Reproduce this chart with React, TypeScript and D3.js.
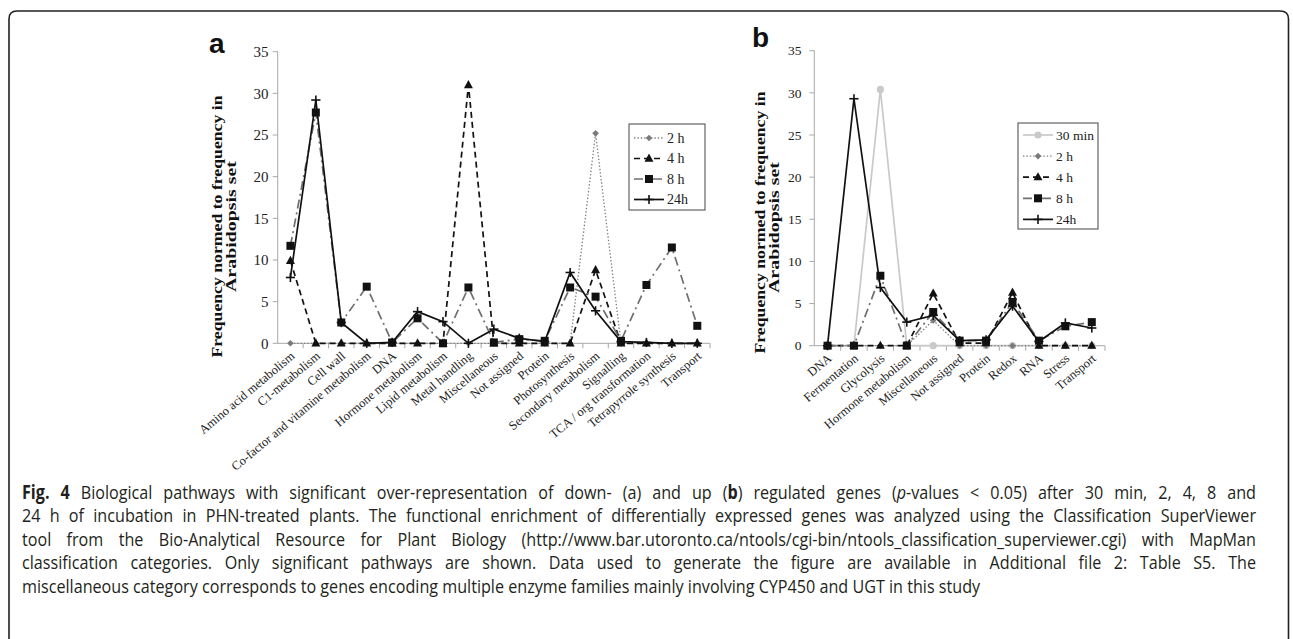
import React, { useEffect, useRef, useState } from "react";
import * as d3 from "d3";

// ---------- data ----------
const catsA = [
  "Amino acid metabolism",
  "C1-metabolism",
  "Cell wall",
  "Co-factor and vitamine metabolism",
  "DNA",
  "Hormone metabolism",
  "Lipid metabolism",
  "Metal handling",
  "Miscellaneous",
  "Not assigned",
  "Protein",
  "Photosynthesis",
  "Secondary metabolism",
  "Signalling",
  "TCA / org transformation",
  "Tetrapyrrole synthesis",
  "Transport",
];
const a2h = [0, 0, 0, 0, 0, 0, 0, 0, 0, 0, 0, 0, 25.2, 0, 0, 0, 0];
const a4h = [9.9, 0, 0, 0, 0, 0, 0, 31.0, 0, 0, 0, 0, 8.8, 0, 0, 0, 0];
const a8h = [11.7, 27.7, 2.5, 6.8, 0.1, 3.0, 0.0, 6.7, 0.1, 0.5, 0.3, 6.7, 5.6, 0.3, 7.0, 11.5, 2.1];
const a24h = [7.9, 29.2, 2.5, 0.0, 0.1, 3.8, 2.6, 0.0, 1.7, 0.6, 0.2, 8.5, 3.9, 0.2, 0.1, 0.0, 0.0];

const catsB = [
  "DNA",
  "Fermentation",
  "Glycolysis",
  "Hormone metabolism",
  "Miscellaneous",
  "Not assigned",
  "Protein",
  "Redox",
  "RNA",
  "Stress",
  "Transport",
];
const b30min = [0, 0, 30.4, 0, 0, 0, 0, 0, 0, 0, 0];
const b2h = [0, 0, 0, 0, 3.0, 0, 0, 0, 0, 0, 0];
const b4h = [0, 0, 0, 0, 6.2, 0.3, 0.3, 6.3, 0, 0, 0];
const b8h = [0, 0, 8.3, 0, 4.0, 0.6, 0.6, 5.2, 0.6, 2.3, 2.8];
const b24h = [0, 29.3, 6.9, 2.8, 3.6, 0.6, 0.7, 4.7, 0.5, 2.7, 2.1];

const yTicks = [0, 5, 10, 15, 20, 25, 30, 35];
const yLabel1 = "Frequency normed to frequency in";
const yLabel2 = "Arabidopsis set";

const seriesA = [
  { name: "2 h", values: a2h },
  { name: "4 h", values: a4h },
  { name: "8 h", values: a8h },
  { name: "24h", values: a24h },
];
const seriesB = [
  { name: "30 min", values: b30min },
  { name: "2 h", values: b2h },
  { name: "4 h", values: b4h },
  { name: "8 h", values: b8h },
  { name: "24h", values: b24h },
];

type Piece = { t: string; w?: string; s?: string };
const captionLines: Piece[][] = [
  [
    { t: "Fig. 4", w: "bold" },
    { t: " Biological pathways with significant over-representation of down- (a) and up (" },
    { t: "b", w: "bold" },
    { t: ") regulated genes (" },
    { t: "p", s: "italic" },
    { t: "-values < 0.05) after 30 min, 2, 4, 8 and" },
  ],
  [{ t: "24 h of incubation in PHN-treated plants. The functional enrichment of differentially expressed genes was analyzed using the Classification SuperViewer" }],
  [{ t: "tool from the Bio-Analytical Resource for Plant Biology (http://www.bar.utoronto.ca/ntools/cgi-bin/ntools_classification_superviewer.cgi) with MapMan" }],
  [{ t: "classification categories. Only significant pathways are shown. Data used to generate the figure are available in Additional file 2: Table S5. The" }],
  [{ t: "miscellaneous category corresponds to genes encoding multiple enzyme families mainly involving CYP450 and UGT in this study" }],
];

// ---------- styles ----------
type Style = { stroke: string; dash?: string; width: number; marker: string; fill: string; size: number };
const STY: Record<string, Style> = {
  "30 min": { stroke: "#c9c9c9", width: 1.7, marker: "circle", fill: "#c9c9c9", size: 3.6 },
  "2 h": { stroke: "#7f7f7f", dash: "1.4,2", width: 1.3, marker: "diamond", fill: "#7a7a7a", size: 3.3 },
  "4 h": { stroke: "#111", dash: "6,4", width: 1.7, marker: "triangle", fill: "#111", size: 4.5 },
  "8 h": { stroke: "#6f6f6f", dash: "9,4,2,4", width: 1.7, marker: "square", fill: "#111", size: 4 },
  "24h": { stroke: "#111", width: 1.7, marker: "plus", fill: "#111", size: 4.6 },
};

const SERIF = "'Liberation Serif', 'Times New Roman', serif";

function Marker({ kind, x, y, s }: { kind: string; x: number; y: number; s: Style }) {
  const r = s.size;
  if (kind === "circle") return <circle cx={x} cy={y} r={r} fill={s.fill} />;
  if (kind === "diamond")
    return <polygon points={`${x},${y - r} ${x + r},${y} ${x},${y + r} ${x - r},${y}`} fill={s.fill} />;
  if (kind === "triangle")
    return <polygon points={`${x},${y - r - 0.5} ${x + r},${y + r * 0.7} ${x - r},${y + r * 0.7}`} fill={s.fill} />;
  if (kind === "square") return <rect x={x - r} y={y - r} width={2 * r} height={2 * r} fill={s.fill} />;
  return (
    <g stroke={s.fill} strokeWidth={1.6}>
      <line x1={x - r} x2={x + r} y1={y} y2={y} />
      <line x1={x} x2={x} y1={y - r} y2={y + r} />
    </g>
  );
}

type PanelCfg = {
  cats: string[];
  series: { name: string; values: number[] }[];
  left: number;
  right: number;
  top: number;
  bottom: number;
  tickFont: number;
  tickRight: number;
  xFont: number;
  xAngle: number;
  letter: string;
  letterX: number;
  letterY: number;
  lab1X: number;
  lab2X: number;
  lab1Y: number;
  lab2Y: number;
  legend: { x: number; y: number; w: number; h: number; row0: number; rowStep: number; font: number };
};

function Panel({ cfg }: { cfg: PanelCfg }) {
  const x = d3.scaleBand<string>().domain(cfg.cats).range([cfg.left, cfg.right]).paddingInner(0).paddingOuter(0);
  const y = d3.scaleLinear().domain([0, 35]).range([cfg.bottom, cfg.top]);
  const bw = x.bandwidth();
  const cx = (c: string) => (x(c) as number) + bw / 2;
  const line = d3
    .line<number>()
    .x((_, i) => cx(cfg.cats[i]))
    .y((d) => y(d));
  const axisCol = "#a8a8a8";
  const lg = cfg.legend;
  return (
    <g>
      <line x1={cfg.left} x2={cfg.left} y1={y(0)} y2={y(35)} stroke={axisCol} strokeWidth={1} />
      {yTicks.map((t) => (
        <g key={t}>
          <line x1={cfg.left - 5} x2={cfg.left} y1={y(t)} y2={y(t)} stroke={axisCol} />
          <text x={cfg.tickRight} y={y(t)} dy="0.35em" textAnchor="end" fontFamily={SERIF} fontSize={cfg.tickFont} fill="#222">
            {t}
          </text>
        </g>
      ))}
      <line x1={cfg.left} x2={cfg.right} y1={y(0)} y2={y(0)} stroke={axisCol} strokeWidth={1} />
      {d3.range(1, cfg.cats.length + 1).map((i) => (
        <line key={i} x1={cfg.left + i * bw} x2={cfg.left + i * bw} y1={y(0)} y2={y(0) + 5} stroke={axisCol} />
      ))}
      {cfg.cats.map((c) => (
        <text
          key={c}
          transform={`translate(${cx(c) + 5},${y(0) + 14}) rotate(${-cfg.xAngle})`}
          textAnchor="end"
          fontFamily={SERIF}
          fontSize={cfg.xFont}
          fill="#222"
        >
          {c}
        </text>
      ))}
      <text
        transform={`translate(${cfg.lab1X},${cfg.lab1Y}) rotate(-90)`}
        textAnchor="middle"
        fontFamily={SERIF}
        fontWeight="bold"
        fontSize={15}
        fill="#111"
        textLength={262}
        lengthAdjust="spacingAndGlyphs"
      >
        {yLabel1}
      </text>
      <text
        transform={`translate(${cfg.lab2X},${cfg.lab2Y}) rotate(-90)`}
        textAnchor="middle"
        fontFamily={SERIF}
        fontWeight="bold"
        fontSize={15}
        fill="#111"
        textLength={131}
        lengthAdjust="spacingAndGlyphs"
      >
        {yLabel2}
      </text>
      <text x={cfg.letterX} y={cfg.letterY} fontFamily="'Liberation Sans', Arial, sans-serif" fontWeight="bold" fontSize={28} fill="#111">
        {cfg.letter}
      </text>
      {cfg.series.map((s) => {
        const st = STY[s.name];
        return (
          <g key={s.name}>
            <path d={line(s.values) || ""} fill="none" stroke={st.stroke} strokeWidth={st.width} strokeDasharray={st.dash} />
            {s.values.map((v, i) => (
              <Marker key={i} kind={st.marker} x={cx(cfg.cats[i])} y={y(v)} s={st} />
            ))}
          </g>
        );
      })}
      <rect x={lg.x} y={lg.y} width={lg.w} height={lg.h} fill="#fff" stroke="#444" strokeWidth={1} />
      {cfg.series.map((s, i) => {
        const st = STY[s.name];
        const ry = lg.row0 + i * lg.rowStep;
        const x1 = lg.x + 5;
        const x2 = lg.x + 35;
        return (
          <g key={s.name}>
            <line x1={x1} x2={x2} y1={ry} y2={ry} stroke={st.stroke} strokeWidth={st.width} strokeDasharray={st.dash} />
            <Marker kind={st.marker} x={(x1 + x2) / 2} y={ry} s={st} />
            <text x={x2 + 3} y={ry} dy="0.35em" fontFamily={SERIF} fontSize={lg.font} fill="#222">
              {s.name}
            </text>
          </g>
        );
      })}
    </g>
  );
}

// ---------- caption (justified, word by word) ----------
const CAP_LEFT = 22;
const CAP_RIGHT = 1256;
const CAP_BASE0 = 499;
const CAP_STEP = 23.4;
const CAP_SX = 0.85;
const CAP_FS = 19;
const CAP_SPACE = 0.26 * CAP_FS;

function toWords(segs: Piece[]): Piece[][] {
  const words: Piece[][] = [[]];
  segs.forEach((seg) => {
    const parts = seg.t.split(" ");
    parts.forEach((p, k) => {
      if (k > 0) words.push([]);
      if (p) words[words.length - 1].push({ ...seg, t: p });
    });
  });
  return words.filter((w) => w.length > 0);
}
const lineWords = captionLines.map(toWords);

function estimate(word: Piece[]) {
  return word.reduce((a, p) => a + p.t.length * 0.55 * CAP_FS, 0);
}

function Caption() {
  const refs = useRef<(SVGTextElement | null)[][]>(lineWords.map(() => []));
  const [widths, setWidths] = useState<number[][] | null>(null);
  useEffect(() => {
    const w = lineWords.map((ws, i) =>
      ws.map((word, j) => {
        const el = refs.current[i][j];
        let v = 0;
        try {
          v = el ? el.getComputedTextLength() : 0;
        } catch (e) {
          v = 0;
        }
        return isFinite(v) && v > 0 ? v : estimate(word);
      })
    );
    setWidths(w);
  }, []);
  return (
    <g>
      {lineWords.map((ws, i) => {
        const wd = widths ? widths[i] : ws.map(estimate);
        const sum = d3.sum(wd);
        const target = (CAP_RIGHT - CAP_LEFT) / CAP_SX;
        let gap = CAP_SPACE;
        if (i < 4 && ws.length > 1) gap = Math.max(CAP_SPACE, (target - sum) / (ws.length - 1));
        const xs: number[] = [];
        let acc = 0;
        wd.forEach((v) => {
          xs.push(acc);
          acc += v + gap;
        });
        return (
          <g key={i} transform={`translate(${CAP_LEFT},${CAP_BASE0 + i * CAP_STEP}) scale(${CAP_SX},1)`}>
            {ws.map((word, j) => (
              <text
                key={j}
                ref={(el) => {
                  refs.current[i][j] = el;
                }}
                x={xs[j]}
                y={0}
                fontFamily="'Open Sans', 'DejaVu Sans', sans-serif"
                fontSize={CAP_FS}
                fill="#231f20"
              >
                {word.map((p, k) => (
                  <tspan key={k} fontWeight={p.w || "normal"} fontStyle={p.s || "normal"}>
                    {p.t}
                  </tspan>
                ))}
              </text>
            ))}
          </g>
        );
      })}
    </g>
  );
}

export default function App() {
  const cfgA: PanelCfg = {
    cats: catsA,
    series: seriesA,
    left: 277.7,
    right: 710,
    top: 51.7,
    bottom: 343.3,
    tickFont: 15,
    tickRight: 268.5,
    xFont: 12.5,
    xAngle: 40,
    letter: "a",
    letterX: 209,
    letterY: 53,
    lab1X: 222,
    lab2X: 236,
    lab1Y: 226.5,
    lab2Y: 226.5,
    legend: { x: 629, y: 124, w: 76, h: 86, row0: 138, rowStep: 20.5, font: 14 },
  };
  const cfgB: PanelCfg = {
    cats: catsB,
    series: seriesB,
    left: 814.3,
    right: 1105,
    top: 50.7,
    bottom: 345.7,
    tickFont: 13.5,
    tickRight: 801.5,
    xFont: 12.5,
    xAngle: 40,
    letter: "b",
    letterX: 752,
    letterY: 47,
    lab1X: 765,
    lab2X: 779,
    lab1Y: 222.5,
    lab2Y: 227.5,
    legend: { x: 1018, y: 123, w: 80, h: 106, row0: 135, rowStep: 21.1, font: 13.5 },
  };
  return (
    <svg width={1293} height={639} style={{ position: "absolute", left: 0, top: 0, background: "#fff" }}>
      <rect x={0} y={0} width={1293} height={639} fill="#fff" />
      <path
        d="M9,700 L9,19 Q9,11 17,11 L1280,11 Q1288.5,11 1288.5,19 L1288.5,700"
        fill="none"
        stroke="#222"
        strokeWidth={1.6}
      />
      <Panel cfg={cfgA} />
      <Panel cfg={cfgB} />
      <Caption />
    </svg>
  );
}
